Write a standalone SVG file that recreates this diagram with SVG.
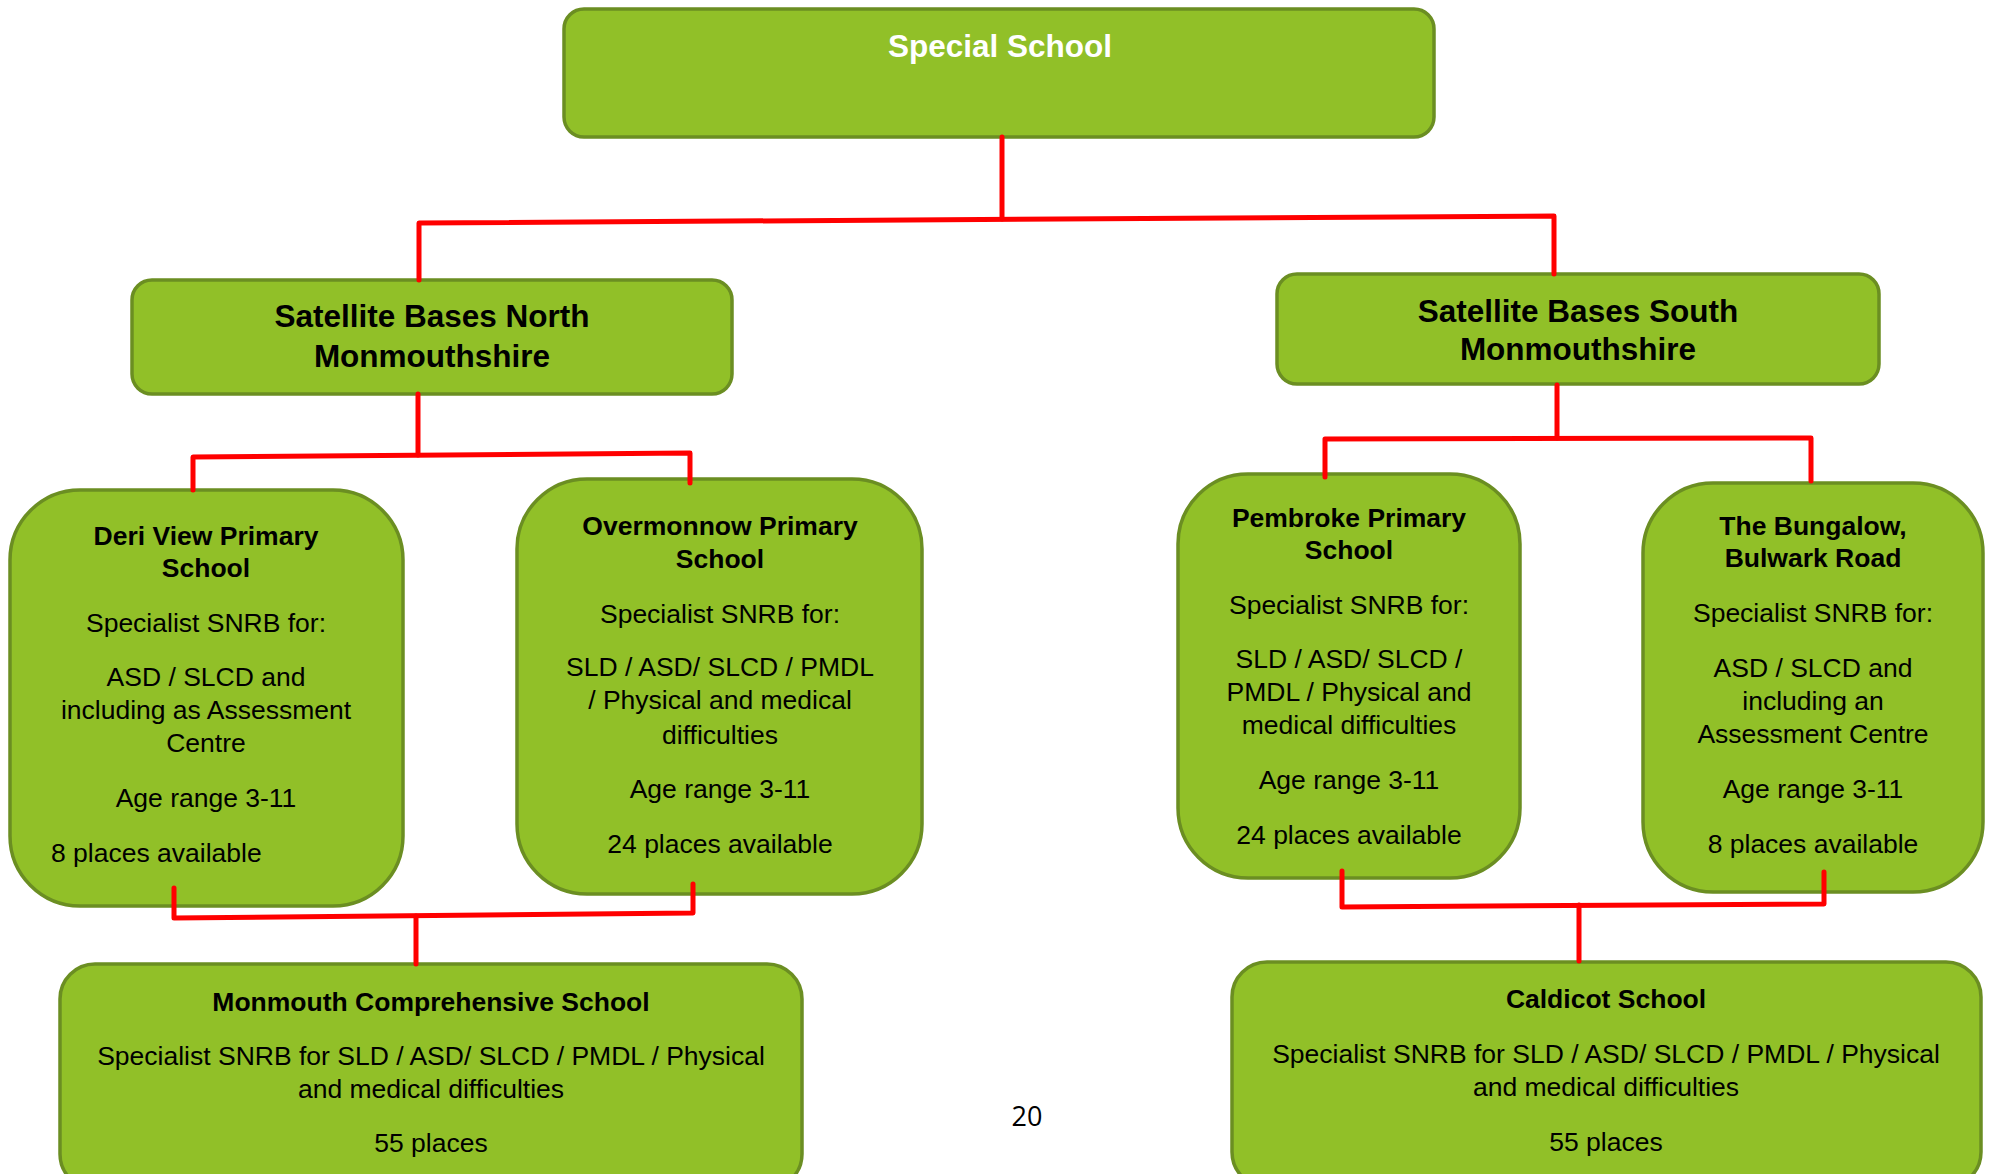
<svg xmlns="http://www.w3.org/2000/svg" width="1989" height="1174" viewBox="0 0 1989 1174">
<style>
.box{fill:#91C028;stroke:#6B8E22;stroke-width:3.5}
.t{font-family:"Liberation Sans",Arial,sans-serif;font-size:26.5px;fill:#000;text-anchor:middle}
.b{font-weight:bold}
.h{font-family:"Liberation Sans",Arial,sans-serif;font-size:31.5px;font-weight:bold;text-anchor:middle;fill:#000}
.c{fill:none;stroke:#FF0000;stroke-width:5;stroke-linecap:round;stroke-linejoin:round}
</style>
<rect width="1989" height="1174" fill="#fff"/>
<g id="special-school">
<rect class="box" x="564" y="9" width="870" height="128" rx="20"/>
<text class="h" x="1000" y="57" style="fill:#fff">Special School</text>
</g>
<g id="satellite-north">
<rect class="box" x="132" y="280" width="600" height="114" rx="20"/>
<text class="h" x="432" y="327">Satellite Bases North</text>
<text class="h" x="432" y="367">Monmouthshire</text>
</g>
<g id="satellite-south">
<rect class="box" x="1277" y="274" width="602" height="110" rx="20"/>
<text class="h" x="1578" y="322">Satellite Bases South</text>
<text class="h" x="1578" y="360">Monmouthshire</text>
</g>
<g id="deri-view">
<rect class="box" x="10" y="490" width="393" height="416" rx="70"/>
<text class="t b" x="206" y="545">Deri View Primary</text>
<text class="t b" x="206" y="577">School</text>
<text class="t" x="206" y="632">Specialist SNRB for:</text>
<text class="t" x="206" y="686">ASD / SLCD and</text>
<text class="t" x="206" y="719">including as Assessment</text>
<text class="t" x="206" y="752">Centre</text>
<text class="t" x="206" y="807">Age range 3-11</text>
<text class="t" x="51" y="862" style="text-anchor:start">8 places available</text>
</g>
<g id="overmonnow">
<rect class="box" x="517" y="479" width="405" height="415" rx="70"/>
<text class="t b" x="720" y="535">Overmonnow Primary</text>
<text class="t b" x="720" y="568">School</text>
<text class="t" x="720" y="623">Specialist SNRB for:</text>
<text class="t" x="720" y="676">SLD / ASD/ SLCD / PMDL</text>
<text class="t" x="720" y="709">/ Physical and medical</text>
<text class="t" x="720" y="744">difficulties</text>
<text class="t" x="720" y="798">Age range 3-11</text>
<text class="t" x="720" y="853">24 places available</text>
</g>
<g id="pembroke">
<rect class="box" x="1178" y="474" width="342" height="404" rx="70"/>
<text class="t b" x="1349" y="527">Pembroke Primary</text>
<text class="t b" x="1349" y="559">School</text>
<text class="t" x="1349" y="614">Specialist SNRB for:</text>
<text class="t" x="1349" y="668">SLD / ASD/ SLCD /</text>
<text class="t" x="1349" y="701">PMDL / Physical and</text>
<text class="t" x="1349" y="734">medical difficulties</text>
<text class="t" x="1349" y="789">Age range 3-11</text>
<text class="t" x="1349" y="844">24 places available</text>
</g>
<g id="bungalow">
<rect class="box" x="1643" y="483" width="340" height="409" rx="70"/>
<text class="t b" x="1813" y="535">The Bungalow,</text>
<text class="t b" x="1813" y="567">Bulwark Road</text>
<text class="t" x="1813" y="622">Specialist SNRB for:</text>
<text class="t" x="1813" y="677">ASD / SLCD and</text>
<text class="t" x="1813" y="710">including an</text>
<text class="t" x="1813" y="743">Assessment Centre</text>
<text class="t" x="1813" y="798">Age range 3-11</text>
<text class="t" x="1813" y="853">8 places available</text>
</g>
<g id="monmouth-comprehensive">
<rect class="box" x="60" y="964" width="742" height="225" rx="35"/>
<text class="t b" x="431" y="1011">Monmouth Comprehensive School</text>
<text class="t" x="431" y="1065">Specialist SNRB for SLD / ASD/ SLCD / PMDL / Physical</text>
<text class="t" x="431" y="1098">and medical difficulties</text>
<text class="t" x="431" y="1152">55 places</text>
</g>
<g id="caldicot">
<rect class="box" x="1232" y="962" width="749" height="225" rx="35"/>
<text class="t b" x="1606" y="1008">Caldicot School</text>
<text class="t" x="1606" y="1063">Specialist SNRB for SLD / ASD/ SLCD / PMDL / Physical</text>
<text class="t" x="1606" y="1096">and medical difficulties</text>
<text class="t" x="1606" y="1151">55 places</text>
</g>
<g id="connectors">
<line class="c" x1="1002" y1="137" x2="1002" y2="219"/>
<polyline class="c" points="419,280 419,223 1554,216 1554,274"/>
<line class="c" x1="418" y1="394" x2="418" y2="455"/>
<polyline class="c" points="193,490 193,457 690,453 690,483"/>
<polyline class="c" points="174,888 174,918 693,913 693,884"/>
<line class="c" x1="416" y1="916" x2="416" y2="964"/>
<line class="c" x1="1557" y1="385" x2="1557" y2="438"/>
<polyline class="c" points="1325,477 1325,439 1811,438 1811,481"/>
<polyline class="c" points="1342,871 1342,907 1824,904 1824,872"/>
<line class="c" x1="1579" y1="905" x2="1579" y2="961"/>
</g>
<text x="1027" y="1126" font-family="'Open Sans',sans-serif" font-size="27" text-anchor="middle" fill="#000">20</text>
</svg>
